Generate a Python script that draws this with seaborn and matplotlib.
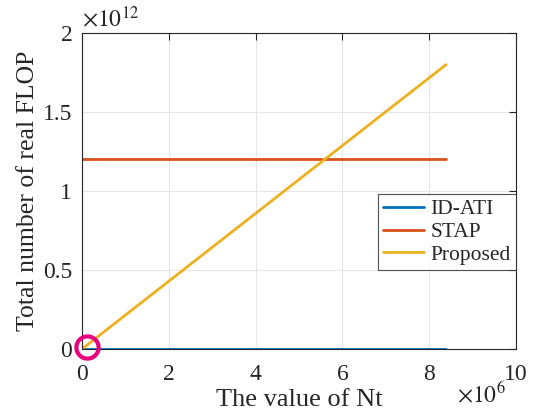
import numpy as np
import pandas as pd
import matplotlib
matplotlib.use("Agg")
import matplotlib.pyplot as plt
import matplotlib.transforms as mtransforms
import seaborn as sns

# Data
nt = [0.0, 8.39e6]
id_ati = [0.0, 0.0]
stap = [1.205e12, 1.205e12]
proposed = [0.0, 1.80e12]
series_names = ["ID-ATI", "STAP", "Proposed"]
colors = ["#0072BD", "#D95319", "#EDB120"]

df = pd.DataFrame({
    "Nt": nt * 3,
    "FLOP": id_ati + stap + proposed,
    "Method": [series_names[0]] * 2 + [series_names[1]] * 2 + [series_names[2]] * 2,
})

sns.set_style("white")
plt.rcParams["font.family"] = ["Liberation Serif", "DejaVu Serif"]
plt.rcParams["mathtext.fontset"] = "stix"

fig = plt.figure(figsize=(5.38, 4.18), dpi=100)
ax = fig.add_axes([82 / 538, 1 - 349 / 418, (516 - 82) / 538, (349 - 33) / 418])

sns.lineplot(data=df, x="Nt", y="FLOP", hue="Method", palette=colors,
             hue_order=series_names, linewidth=2, ax=ax, legend=True)

# highlight circle near the origin
circ_tr = mtransforms.offset_copy(ax.transData, fig=fig, x=3.4, y=1.7, units="points")
ax.plot([nt[0]], [proposed[0]], marker="o", markersize=16, markerfacecolor="none",
        markeredgecolor="#E6007E", markeredgewidth=3, linestyle="none", zorder=5,
        clip_on=False, transform=circ_tr)

ax.set_xlim(0, 10e6)
ax.set_ylim(0, 2e12)
ax.set_xticks(np.arange(0, 10.1e6, 2e6))
ax.set_xticklabels(["0", "2", "4", "6", "8", "10"])
ax.set_yticks([0, 0.5e12, 1e12, 1.5e12, 2e12])
ax.set_yticklabels(["0", "0.5", "1", "1.5", "2"])
ax.tick_params(direction="in", length=5, width=0.8, labelsize=17, top=True, right=True,
               colors="#262626", labelcolor="#262626")
ax.tick_params(axis="x", pad=11)
ax.tick_params(axis="y", pad=7)
ax.grid(True, color="#E6E6E6", linewidth=0.8)
for s in ax.spines.values():
    s.set_color("#262626")
    s.set_linewidth(0.8)
ax.set_xlabel("The value of Nt", fontsize=19, color="#262626", labelpad=3)
ax.set_ylabel("Total number of real FLOP", fontsize=18.5, color="#262626", labelpad=2.5)

ax.text(0.0, 1.005, r"$\times10^{12}$", transform=ax.transAxes, fontsize=17,
        ha="left", va="bottom", color="#262626")
ax.text(0.977, -0.104, r"$\times10^{6}$", transform=ax.transAxes, fontsize=17,
        ha="right", va="top", color="#262626")

leg = ax.legend(loc="center right", bbox_to_anchor=(1.0, 0.37), fontsize=15.5,
                frameon=True, fancybox=False, edgecolor="#262626", handlelength=1.9,
                handletextpad=0.3, borderpad=0.25, labelspacing=0.12, borderaxespad=0)
leg.get_frame().set_linewidth(0.8)

fig.savefig("out.png", dpi=100)
